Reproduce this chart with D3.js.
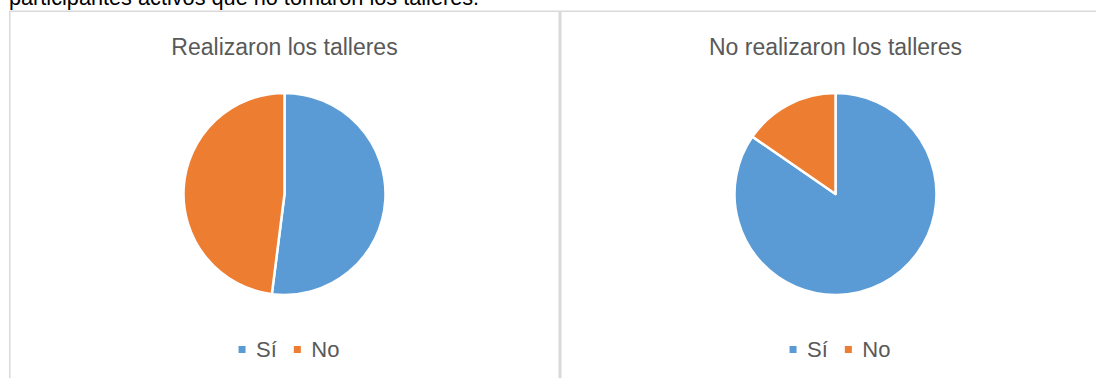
<!DOCTYPE html>
<html>
<head>
<meta charset="utf-8">
<script src="https://cdn.jsdelivr.net/npm/d3@7"></script>
<style>
  html, body { margin: 0; padding: 0; background: #ffffff; }
  svg { display: block; }
</style>
</head>
<body>
<svg id="chart" width="1096" height="378"></svg>
<script>
// Answers per group (Sí / No)
const categories = ["Sí", "No"];
const tookWorkshops = [13, 12];
const noWorkshops = [11, 2];
const panelTitles = ["Realizaron los talleres", "No realizaron los talleres"];
const captionText = "participantes activos que no tomaron los talleres.";

const colors = d3.scaleOrdinal().domain(categories).range(["#5B9BD5", "#ED7D31"]);
const font = "'Liberation Sans', Arial, sans-serif";

const svg = d3.select("#chart");

// Caption line above the panels (runs off the top edge)
svg.append("text")
  .attr("x", 9).attr("y", 5)
  .attr("font-family", font).attr("font-size", 21.7)
  .attr("fill", "#000")
  .text(captionText);

const panels = [
  { x0: 9, width: 551, values: tookWorkshops, title: panelTitles[0] },
  { x0: 560, width: 551, values: noWorkshops, title: panelTitles[1] }
];

const pie = d3.pie().sort(null).value(d => d.value);
const radius = 101;
const arc = d3.arc().innerRadius(0).outerRadius(radius);

panels.forEach(p => {
  const g = svg.append("g");
  // panel frame
  g.append("rect")
    .attr("x", p.x0 + 0.75).attr("y", 11.25)
    .attr("width", p.width - 1.5).attr("height", 400)
    .attr("fill", "#fff").attr("stroke", "#d9d9d9").attr("stroke-width", 1.5);

  const cx = p.x0 + p.width / 2;

  g.append("text")
    .attr("x", cx).attr("y", 55)
    .attr("text-anchor", "middle")
    .attr("font-family", font).attr("font-size", 23)
    .attr("fill", "#595959")
    .text(p.title);

  const data = categories.map((c, i) => ({ cat: c, value: p.values[i] }));
  g.append("g")
    .attr("transform", `translate(${cx},194)`)
    .selectAll("path")
    .data(pie(data))
    .join("path")
    .attr("d", arc)
    .attr("fill", d => colors(d.data.cat))
    .attr("stroke", "#fff").attr("stroke-width", 2.5)
    .attr("stroke-linejoin", "round");

  // legend
  const leg = g.append("g");
  let x = 0;
  categories.forEach((c) => {
    const it = leg.append("g").attr("transform", `translate(${x},0)`);
    it.append("rect")
      .attr("x", 0).attr("y", -10.5).attr("width", 7).attr("height", 7)
      .attr("fill", colors(c));
    const t = it.append("text")
      .attr("x", 17.5).attr("y", 0)
      .attr("font-family", font).attr("font-size", 22)
      .attr("fill", "#595959")
      .text(c);
    const w = t.node().getComputedTextLength();
    x += 17.5 + w + 17;
  });
  const bb = leg.node().getBBox();
  leg.attr("transform", `translate(${cx + 4.5 - bb.width / 2},356.5)`);
});
</script>
</body>
</html>
